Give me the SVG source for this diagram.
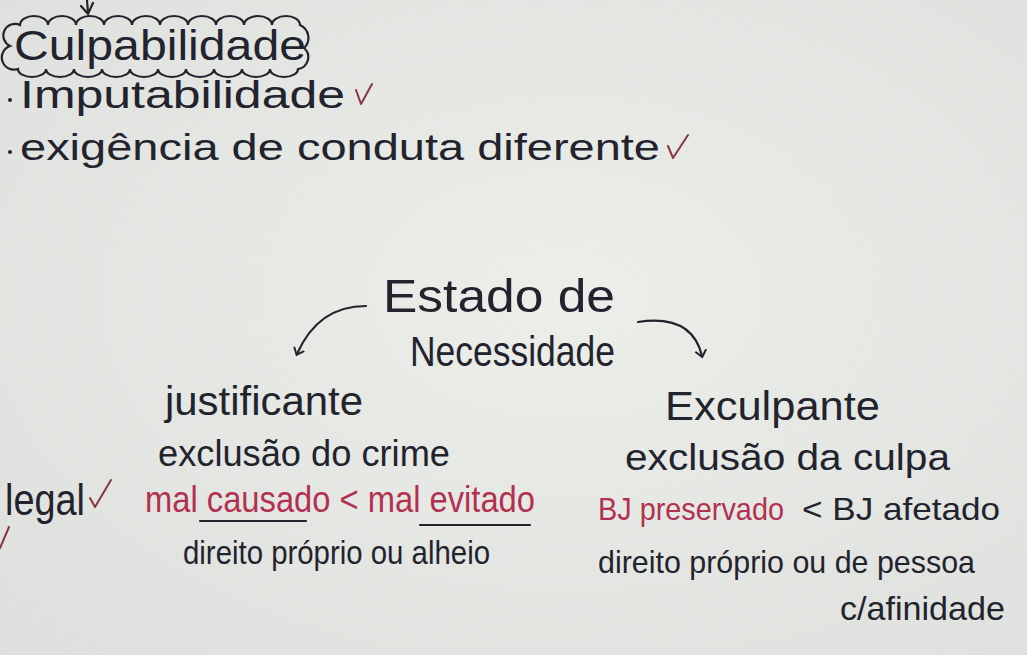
<svg xmlns="http://www.w3.org/2000/svg" width="1027" height="655" viewBox="0 0 1027 655">
<defs>
<radialGradient id="bg" cx="0.55" cy="0.45" r="0.8">
<stop offset="0" stop-color="#eceeea"/>
<stop offset="1" stop-color="#dcdfdb"/>
</radialGradient>
<marker id="ah" viewBox="0 0 12 12" refX="6" refY="6" markerWidth="12" markerHeight="12" markerUnits="userSpaceOnUse" orient="auto">
<path d="M1 1 L7 6 L1 11" fill="none" stroke="#23232e" stroke-width="2" stroke-linecap="round"/>
</marker>
<style>
.t{font-family:"Liberation Sans","DejaVu Sans",sans-serif;fill:#23232e;}
.r{fill:#b3304f;}
.chk{fill:none;stroke:#8a3640;stroke-width:2;stroke-linecap:round;stroke-linejoin:round;}
.ln{fill:none;stroke:#23232e;stroke-width:2.2;stroke-linecap:round;}
</style>
</defs>
<rect width="1027" height="655" fill="url(#bg)"/>

<g id="top-arrow">
<path class="ln" d="M87 0 L88 13 M81 6 L88 14 L93 3"/>
</g>

<g id="culpabilidade">
<path class="ln" stroke-width="2" d="M20 25 a14 9 0 0 1 28 0 a14 9 0 0 1 28 0 a14 9 0 0 1 28 0 a14 9 0 0 1 28 0 a14 9 0 0 1 28 0 a14 9 0 0 1 28 0 a14 9 0 0 1 28 0 a14 9 0 0 1 28 0 a14 9 0 0 1 28 0 a14 9 0 0 1 28 0 a14 14 0 0 1 4 23 a12 12 0 0 1 -6 21 a14 8 0 0 1 -28 0 a14 8 0 0 1 -28 0 a14 8 0 0 1 -28 0 a14 8 0 0 1 -28 0 a14 8 0 0 1 -28 0 a14 8 0 0 1 -28 0 a14 8 0 0 1 -28 0 a14 8 0 0 1 -28 0 a14 8 0 0 1 -28 0 a14 8 0 0 1 -28 0 a12 12 0 0 1 -8 -23 a10 10 0 0 1 10 -21 Z"/>
<text class="t" x="14" y="60" font-size="42" textLength="292" lengthAdjust="spacingAndGlyphs">Culpabilidade</text>
</g>

<g id="imputabilidade">
<circle cx="10" cy="100" r="2" fill="#23232e"/>
<text class="t" x="20" y="108" font-size="38" textLength="325" lengthAdjust="spacingAndGlyphs">Imputabilidade</text>
<path class="chk" d="M356 90 L361 104 L372 84"/>
</g>

<g id="exigencia">
<circle cx="10" cy="152" r="2" fill="#23232e"/>
<text class="t" x="20" y="160" font-size="36" textLength="640" lengthAdjust="spacingAndGlyphs">exigência de conduta diferente</text>
<path class="chk" d="M668 146 L673 158 L688 135"/>
</g>

<g id="estado">
<text class="t" x="383" y="312" font-size="46" textLength="232" lengthAdjust="spacingAndGlyphs">Estado de</text>
<text class="t" x="410" y="366" font-size="42" textLength="205" lengthAdjust="spacingAndGlyphs">Necessidade</text>
</g>

<g id="connectors">
<path class="ln" d="M366 306 Q318 306 297 354" marker-end="url(#ah)"/>
<path class="ln" d="M638 322 Q692 314 702 356" marker-end="url(#ah)"/>
</g>

<g id="justificante">
<text class="t" x="165" y="415" font-size="40" textLength="198" lengthAdjust="spacingAndGlyphs">justificante</text>
<text class="t" x="158" y="466" font-size="36" textLength="292" lengthAdjust="spacingAndGlyphs">exclusão do crime</text>
<text class="t r" x="145" y="512" font-size="36" textLength="390" lengthAdjust="spacingAndGlyphs">mal causado &lt; mal evitado</text>
<path class="ln" stroke-width="1.8" d="M200 521 L306 521 M420 525 L530 525"/>
<text class="t" x="183" y="564" font-size="34" textLength="307" lengthAdjust="spacingAndGlyphs">direito próprio ou alheio</text>
</g>

<g id="legal">
<text class="t" x="5" y="515" font-size="44" textLength="80" lengthAdjust="spacingAndGlyphs">legal</text>
<path class="chk" d="M90 498 L95 507 L111 480"/>
<path class="chk" stroke="#23232e" d="M0 548 L9 527"/>
</g>

<g id="exculpante">
<text class="t" x="665" y="420" font-size="40" textLength="215" lengthAdjust="spacingAndGlyphs">Exculpante</text>
<text class="t" x="625" y="470" font-size="36" textLength="325" lengthAdjust="spacingAndGlyphs">exclusão da culpa</text>
<text class="t r" x="598" y="520" font-size="32" textLength="186" lengthAdjust="spacingAndGlyphs">BJ preservado</text>
<text class="t" x="1000" y="520" font-size="32" text-anchor="end" textLength="198" lengthAdjust="spacingAndGlyphs">&lt; BJ afetado</text>
<text class="t" x="598" y="573" font-size="32" textLength="377" lengthAdjust="spacingAndGlyphs">direito próprio ou de pessoa</text>
<text class="t" x="840" y="620" font-size="34" textLength="165" lengthAdjust="spacingAndGlyphs">c/afinidade</text>
</g>
</svg>
